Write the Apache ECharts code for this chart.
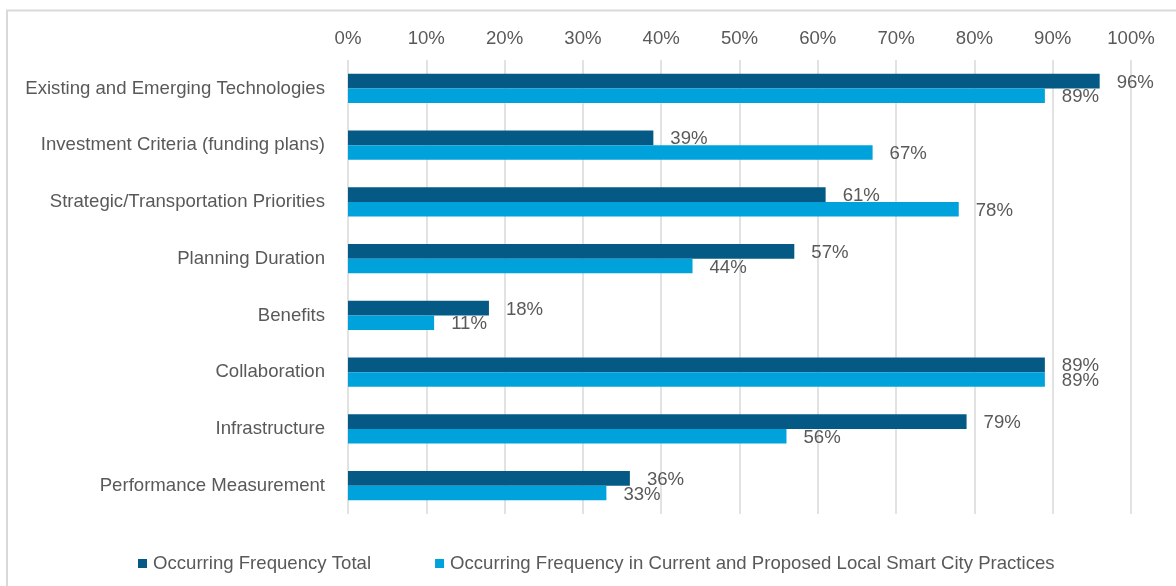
<!DOCTYPE html>
<html>
<head>
<meta charset="utf-8">
<style>
  html, body { margin: 0; padding: 0; background: #ffffff; }
  #chart { width: 1176px; height: 586px; }
</style>
<script src="https://cdn.jsdelivr.net/npm/echarts@6/dist/echarts.min.js"></script>
</head>
<body>
<div id="chart"></div>
<script>
// Planning elements, top to bottom
const categories = [
  'Existing and Emerging Technologies',
  'Investment Criteria (funding plans)',
  'Strategic/Transportation Priorities',
  'Planning Duration',
  'Benefits',
  'Collaboration',
  'Infrastructure',
  'Performance Measurement'
];

// Occurring frequency (%)
const totalValues = [96, 39, 61, 57, 18, 89, 79, 36];
const localPracticeValues = [89, 67, 78, 44, 11, 89, 56, 33];

const seriesNames = [
  'Occurring Frequency Total',
  'Occurring Frequency in Current and Proposed Local Smart City Practices'
];

const FONT = 'Liberation Sans, Arial, sans-serif';
const TEXT = '#595959';
const SIZE = 18.6;

const chart = echarts.init(document.getElementById('chart'));

function barSeries(name, data, color) {
  return {
    name: name,
    type: 'bar',
    data: data,
    barWidth: 14.7,
    barGap: '0%',
    itemStyle: { color: color },
    label: {
      show: true,
      position: 'right',
      distance: 17,
      offset: [0, 1.5],
      formatter: '{c}%',
      color: TEXT,
      fontSize: SIZE,
      fontFamily: FONT
    }
  };
}

chart.setOption({
  animation: false,
  textStyle: { fontFamily: FONT },
  graphic: [{
    type: 'rect',
    shape: { x: 7, y: 10.5, width: 1200, height: 600 },
    style: { fill: 'none', stroke: '#d9d9d9', lineWidth: 2 },
    silent: true
  }],
  grid: { left: 348, right: 45, top: 60, bottom: 72 },
  xAxis: {
    type: 'value',
    position: 'top',
    min: 0,
    max: 100,
    interval: 10,
    axisLine: { show: false },
    axisTick: { show: false },
    axisLabel: {
      formatter: '{value}%',
      color: TEXT,
      fontSize: SIZE,
      fontFamily: FONT,
      margin: 12
    },
    splitLine: { lineStyle: { color: '#d9d9d9', width: 1.5 } }
  },
  yAxis: {
    type: 'category',
    data: categories,
    inverse: true,
    axisLine: { show: false },
    axisTick: { show: false },
    axisLabel: {
      color: TEXT,
      fontSize: SIZE,
      fontFamily: FONT,
      margin: 23
    }
  },
  legend: {
    data: seriesNames,
    top: 549,
    left: 133,
    icon: 'rect',
    itemWidth: 9,
    itemHeight: 9,
    itemGap: 64,
    textStyle: { color: TEXT, fontSize: SIZE, fontFamily: FONT, padding: [0, 0, 0, 1] }
  },
  series: [
    barSeries(seriesNames[0], totalValues, '#045A84'),
    barSeries(seriesNames[1], localPracticeValues, '#00A2DB')
  ]
});
</script>
</body>
</html>
